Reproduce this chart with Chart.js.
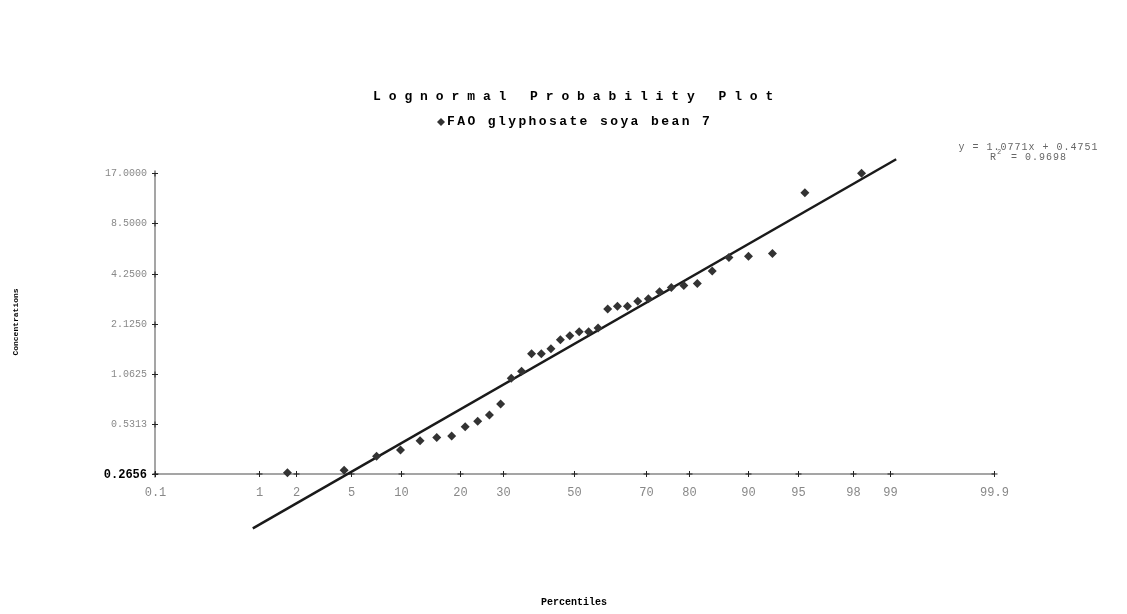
<!DOCTYPE html>
<html>
<head>
<meta charset="utf-8">
<script src="https://cdn.jsdelivr.net/npm/chart.js@4/dist/chart.umd.min.js"></script>
<style>
  html, body { margin: 0; padding: 0; background: #fff; }
  #wrap { width: 1127px; height: 614px; }
</style>
</head>
<body>
<div id="wrap"><canvas id="myChart" width="1127" height="614"></canvas></div>
<script>
const percentiles = [1.724, 4.483, 7.241, 10.0, 12.759, 15.517, 18.276, 21.034, 23.793, 26.552,
    29.31, 32.069, 34.828, 37.586, 40.345, 43.103, 45.862, 48.621, 51.379, 54.138,
    56.897, 59.655, 62.414, 65.172, 67.931, 70.69, 73.448, 76.207, 78.966, 81.724,
    84.483, 87.241, 90.0, 92.759, 95.517, 98.276];
const concentrations = [0.27, 0.28, 0.34, 0.37, 0.42, 0.44, 0.45, 0.51, 0.55, 0.60,
    0.70, 1.00, 1.10, 1.40, 1.40, 1.50, 1.70, 1.80, 1.90, 1.90,
    2.00, 2.60, 2.70, 2.70, 2.90, 3.00, 3.30, 3.50, 3.60, 3.70,
    4.40, 5.30, 5.40, 5.60, 13.0, 17.0];
const xTicks = [0.1, 1, 2, 5, 10, 20, 30, 50, 70, 80, 90, 95, 98, 99, 99.9];
const yTicks = [0.265625, 0.53125, 1.0625, 2.125, 4.25, 8.5, 17];
const yTickLabels = ["0.2656", "0.5313", "1.0625", "2.1250", "4.2500", "8.5000", "17.0000"];
const trendSlope = 1.0771;
const trendIntercept = 0.4751;
const trendR2 = 0.9698;
const trendRange = [0.89, 99.11];
const seriesName = "FAO glyphosate soya bean 7";

const FONT = "'Liberation Mono', 'Courier New', monospace";

// inverse normal cdf (Acklam) -> probit scale
function probit(p) {
    const a = [-3.969683028665376e+01, 2.209460984245205e+02, -2.759285104469687e+02, 1.383577518672690e+02, -3.066479806614716e+01, 2.506628277459239e+00];
    const b = [-5.447609879822406e+01, 1.615858368580409e+02, -1.556989798598866e+02, 6.680131188771972e+01, -1.328068155288572e+01];
    const c = [-7.784894002430293e-03, -3.223964580411365e-01, -2.400758277161838e+00, -2.549732539343734e+00, 4.374664141464968e+00, 2.938163982698783e+00];
    const d = [7.784695709041462e-03, 3.224671290700398e-01, 2.445134137142996e+00, 3.754408661907416e+00];
    const pl = 0.02425;
    let q, r;
    if (p < pl) {
        q = Math.sqrt(-2 * Math.log(p));
        return (((((c[0]*q+c[1])*q+c[2])*q+c[3])*q+c[4])*q+c[5]) / ((((d[0]*q+d[1])*q+d[2])*q+d[3])*q+1);
    }
    if (p > 1 - pl) {
        q = Math.sqrt(-2 * Math.log(1 - p));
        return -(((((c[0]*q+c[1])*q+c[2])*q+c[3])*q+c[4])*q+c[5]) / ((((d[0]*q+d[1])*q+d[2])*q+d[3])*q+1);
    }
    q = p - 0.5; r = q * q;
    return (((((a[0]*r+a[1])*r+a[2])*r+a[3])*r+a[4])*r+a[5])*q / (((((b[0]*r+b[1])*r+b[2])*r+b[3])*r+b[4])*r+1);
}
const zOf = pct => probit(pct / 100);

const points = percentiles.map((p, i) => ({x: zOf(p), y: Math.log(concentrations[i])}));
const trend = trendRange.map(p => ({x: zOf(p), y: trendIntercept + trendSlope * zOf(p)}));

const xMin = zOf(xTicks[0]);
const xMax = zOf(xTicks[xTicks.length - 1]);
const yBase = Math.log(yTicks[0]);

// draws spaced text starting at x (left aligned), returns end x
function spacedText(ctx, text, x, y, spacing) {
    ctx.textAlign = "left";
    let cx = x;
    for (const ch of text) {
        ctx.fillText(ch, cx, y);
        cx += ctx.measureText(ch).width + spacing;
    }
    return cx - spacing;
}
function spacedWidth(ctx, text, spacing) {
    return ctx.measureText(text).width + spacing * (text.length - 1);
}

// axes, ticks, titles, legend, equation
const decorations = {
    id: "decorations",
    beforeDatasetsDraw(chart) {
        const ctx = chart.ctx;
        const xs = chart.scales.x, ys = chart.scales.y;
        const y0 = ys.getPixelForValue(yBase);
        const x0 = xs.getPixelForValue(xMin);
        const yTop = ys.getPixelForValue(Math.log(yTicks[yTicks.length - 1]));
        const xRight = xs.getPixelForValue(xMax);
        ctx.save();
        ctx.strokeStyle = "#888";
        ctx.lineWidth = 1.5;
        ctx.beginPath();
        ctx.moveTo(x0, y0); ctx.lineTo(xRight, y0);
        ctx.moveTo(x0, y0); ctx.lineTo(x0, yTop);
        ctx.stroke();

        ctx.strokeStyle = "#222";
        ctx.lineWidth = 1;
        ctx.fillStyle = "#888";
        ctx.font = "12px " + FONT;
        ctx.textAlign = "center";
        ctx.textBaseline = "middle";
        xTicks.forEach(t => {
            const px = Math.round(xs.getPixelForValue(zOf(t))) + 0.5;
            ctx.beginPath();
            ctx.moveTo(px - 3, y0); ctx.lineTo(px + 3, y0);
            ctx.moveTo(px, y0 - 3); ctx.lineTo(px, y0 + 3);
            ctx.stroke();
            ctx.fillText(String(t), px, y0 + 19);
        });
        ctx.textAlign = "right";
        yTicks.forEach((t, i) => {
            const py = Math.round(ys.getPixelForValue(Math.log(t))) + 0.5;
            ctx.beginPath();
            ctx.moveTo(x0 - 3, py); ctx.lineTo(x0 + 3, py);
            ctx.moveTo(x0, py - 3); ctx.lineTo(x0, py + 3);
            ctx.stroke();
            if (i === 0) {
                ctx.fillStyle = "#000";
                ctx.font = "bold 12px " + FONT;
            } else {
                ctx.fillStyle = "#888";
                ctx.font = "10px " + FONT;
            }
            ctx.fillText(yTickLabels[i], x0 - 8, py);
        });

        // titles
        ctx.fillStyle = "#000";
        ctx.font = "bold 13px " + FONT;
        spacedText(ctx, "Lognormal Probability Plot", 373, 97, 7.9);
        spacedText(ctx, seriesName, 447, 122, 2.4);
        ctx.fillStyle = "#333";
        ctx.beginPath();
        ctx.moveTo(437, 122); ctx.lineTo(441, 118); ctx.lineTo(445, 122); ctx.lineTo(441, 126);
        ctx.closePath(); ctx.fill();

        ctx.fillStyle = "#000";
        ctx.font = "bold 10px " + FONT;
        ctx.textAlign = "center";
        ctx.fillText("Percentiles", 574, 602);
        ctx.save();
        ctx.translate(16, 322);
        ctx.rotate(-Math.PI / 2);
        ctx.font = "bold 8px " + FONT;
        ctx.fillText("Concentrations", 0, 0);
        ctx.restore();

        // equation
        ctx.fillStyle = "#666";
        ctx.font = "10px " + FONT;
        const eq = "y = " + trendSlope.toFixed(4) + "x + " + trendIntercept.toFixed(4);
        const eqW = spacedWidth(ctx, eq, 1);
        spacedText(ctx, eq, 1028 - eqW / 2, 147, 1);
        const r2 = "R  = " + trendR2.toFixed(4);
        const r2W = spacedWidth(ctx, r2, 1);
        const sx = 1028 - r2W / 2;
        spacedText(ctx, r2, sx, 157, 1);
        ctx.font = "7px " + FONT;
        ctx.fillText("2", sx + 7, 152);
        ctx.restore();
    }
};

const ctx = document.getElementById("myChart").getContext("2d");
const myChart = new Chart(ctx, {
    type: "scatter",
    data: {
        datasets: [{
            label: seriesName,
            data: points,
            pointStyle: "rectRot",
            pointRadius: 4.5,
            backgroundColor: "#333",
            borderColor: "#333",
            borderWidth: 0,
            clip: false
        }, {
            type: "line",
            label: "trend",
            data: trend,
            borderColor: "#1a1a1a",
            borderWidth: 2.5,
            pointRadius: 0,
            fill: false,
            clip: false
        }]
    },
    options: {
        responsive: false,
        maintainAspectRatio: false,
        animation: false,
        layout: {padding: {left: 155, right: 133, top: 150, bottom: 74}},
        scales: {
            x: {type: "linear", min: xMin, max: xMax, display: false},
            y: {type: "linear", min: -2.2384, max: 3.155, display: false}
        },
        plugins: {
            legend: {display: false},
            title: {display: false},
            tooltip: {enabled: false}
        }
    },
    plugins: [decorations]
});
</script>
</body>
</html>
